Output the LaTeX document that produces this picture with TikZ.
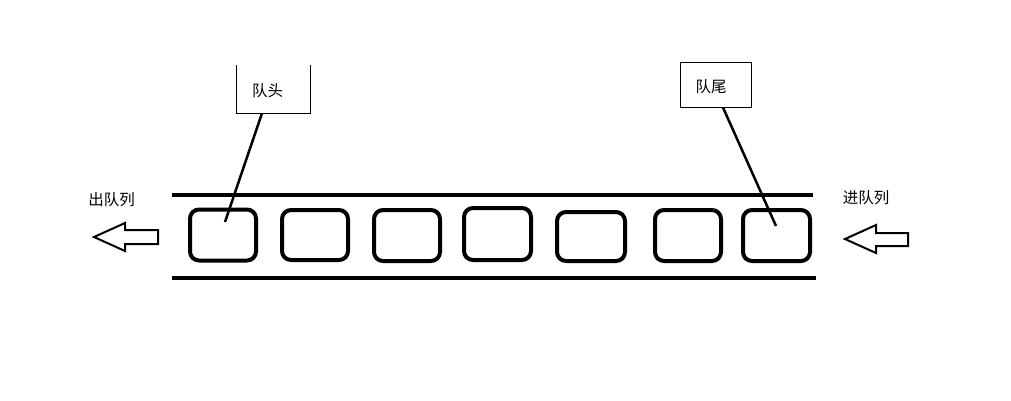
\documentclass[tikz,border=0pt]{standalone}
\usepackage{fontspec}
\newfontfamily\cjk{Noto Sans CJK SC}
\begin{document}
\begin{tikzpicture}[x=1pt,y=-1pt,
  cell/.style={draw=black,line width=4pt,rounded corners=9pt,inner sep=0pt},
  label/.style={font=\cjk\fontsize{15.5}{17}\selectfont,inner sep=0pt},
  rail/.style={line width=3.5pt},
  pointer/.style={line width=2.5pt},
  hollowarrow/.style={draw=black,line width=2pt,fill=white,line join=miter}]
\useasboundingbox (0,0) rectangle (1011,400);
% rails
\draw[rail] (172,195) -- (813,195);
\draw[rail] (172,278) -- (816,278);
% cells
\node[cell,minimum width=66pt,minimum height=51pt] (c1) at (223,235) {};
\node[cell,minimum width=66pt,minimum height=50pt] (c2) at (315,235) {};
\node[cell,minimum width=66pt,minimum height=51pt] (c3) at (407,235.5) {};
\node[cell,minimum width=67pt,minimum height=52pt] (c4) at (497.5,234) {};
\node[cell,minimum width=68pt,minimum height=49pt] (c5) at (591,236.5) {};
\node[cell,minimum width=66pt,minimum height=51pt] (c6) at (688,235.5) {};
\node[cell,minimum width=67pt,minimum height=51pt] (c7) at (776.5,235.5) {};
% label boxes
\node[minimum width=73pt,minimum height=48pt,inner sep=0pt] (head) at (273.5,89) {};
\draw[line width=1pt] (head.north west) -- (head.south west) -- (head.south east) -- (head.north east);
\node[label] (headtext) at (267.5,91) {队头};
\node[draw,line width=1pt,minimum width=71pt,minimum height=45pt,inner sep=0pt] (tail) at (715.5,84.5) {};
\node[label] (tailtext) at (711,87) {队尾};
% pointers
\coordinate (hp) at (225,222);
\coordinate (tp) at (776,226);
\draw[pointer] ([xshift=-11.5pt]head.south) -- (hp);
\draw[pointer] ([xshift=7.5pt]tail.south) -- (tp);
% queue labels
\node[label] (out) at (111.5,200) {出队列};
\node[label] (in) at (866,198) {进队列};
% hollow arrows
\draw[hollowarrow] (94,237) -- (125,223) -- (125,230) -- (158,230) -- (158,244) -- (125,244) -- (125,251) -- cycle;
\draw[hollowarrow] (845,239) -- (876,225) -- (876,233) -- (908,233) -- (908,246) -- (876,246) -- (876,253) -- cycle;
\end{tikzpicture}
\end{document}
